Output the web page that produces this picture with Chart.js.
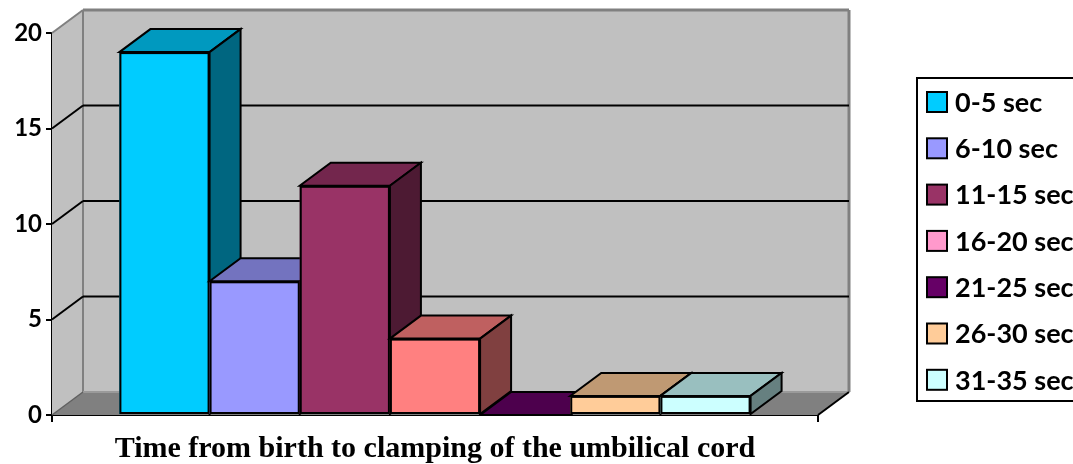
<!DOCTYPE html>
<html>
<head>
<meta charset="utf-8">
<title>Time from birth to clamping of the umbilical cord</title>
<script src="https://cdn.jsdelivr.net/npm/chart.js@4.4.1/dist/chart.umd.min.js"></script>
<style>
  html, body { margin: 0; padding: 0; background: #ffffff; overflow: hidden; }
  #wrap { width: 1073px; height: 464px; position: relative; }
  canvas { display: block; }
</style>
</head>
<body>
<div id="wrap"><canvas id="chart" width="1073" height="464"></canvas></div>
<script>
// Axis title and series
const categories = ['Time from birth to clamping of the umbilical cord'];
const seriesLabels = ['0-5 sec', '6-10 sec', '11-15 sec', '16-20 sec', '21-25 sec', '26-30 sec', '31-35 sec'];
const seriesValues = [19, 7, 12, 4, 0, 1, 1];
const barColors = ['#00CCFF', '#9999FF', '#993366', '#FF8080', '#660066', '#FFCC99', '#CCFFFF'];
const legendColors = ['#00CCFF', '#9999FF', '#993366', '#FF99CC', '#660066', '#FFCC99', '#CCFFFF'];
const yTicks = [0, 5, 10, 15, 20];

// depth of the 3-D box (offset from front plane to back wall)
const DEPTH_X = 31;
const DEPTH_Y = -23;

function shade(hex, f) {
  const n = parseInt(hex.slice(1), 16);
  const r = Math.round(((n >> 16) & 255) * f);
  const g = Math.round(((n >> 8) & 255) * f);
  const b = Math.round((n & 255) * f);
  return 'rgb(' + r + ',' + g + ',' + b + ')';
}

function poly(ctx, pts, fill, stroke, lw) {
  ctx.beginPath();
  ctx.moveTo(pts[0][0], pts[0][1]);
  for (let i = 1; i < pts.length; i++) ctx.lineTo(pts[i][0], pts[i][1]);
  ctx.closePath();
  if (fill) { ctx.fillStyle = fill; ctx.fill(); }
  if (stroke) { ctx.strokeStyle = stroke; ctx.lineWidth = lw || 2; ctx.lineJoin = 'miter'; ctx.stroke(); }
}

function line(ctx, x1, y1, x2, y2, color, lw) {
  ctx.beginPath();
  ctx.moveTo(x1, y1);
  ctx.lineTo(x2, y2);
  ctx.strokeStyle = color;
  ctx.lineWidth = lw;
  ctx.stroke();
}

const box3dPlugin = {
  id: 'box3d',
  // walls, floor and gridlines behind the bars
  beforeDatasetsDraw(chart) {
    const ctx = chart.ctx;
    const xs = chart.scales.x, ys = chart.scales.y;
    const L = xs.left, R = xs.right;
    const top = ys.getPixelForValue(yTicks[yTicks.length - 1]);
    const base = ys.getPixelForValue(0);
    ctx.save();
    poly(ctx, [[L, top], [L + DEPTH_X, top + DEPTH_Y], [L + DEPTH_X, base + DEPTH_Y], [L, base]], '#C0C0C0');
    poly(ctx, [[L + DEPTH_X, top + DEPTH_Y], [R + DEPTH_X, top + DEPTH_Y], [R + DEPTH_X, base + DEPTH_Y], [L + DEPTH_X, base + DEPTH_Y]], '#C0C0C0');
    poly(ctx, [[L, base], [R, base], [R + DEPTH_X, base + DEPTH_Y], [L + DEPTH_X, base + DEPTH_Y]], '#808080');
    line(ctx, L, top, L + DEPTH_X, top + DEPTH_Y, '#808080', 2);
    line(ctx, L + DEPTH_X, top + DEPTH_Y, R + DEPTH_X, top + DEPTH_Y, '#808080', 3);
    line(ctx, R + DEPTH_X, top + DEPTH_Y, R + DEPTH_X, base + DEPTH_Y, '#808080', 3);
    line(ctx, L + DEPTH_X, top + DEPTH_Y, L + DEPTH_X, base + DEPTH_Y, '#808080', 2);
    line(ctx, L + DEPTH_X, base + DEPTH_Y, R + DEPTH_X, base + DEPTH_Y, '#9a9a9a', 2);
    line(ctx, L, base, L + DEPTH_X, base + DEPTH_Y, '#606060', 1.5);
    line(ctx, R, base, R + DEPTH_X, base + DEPTH_Y, '#000000', 2);
    yTicks.forEach(v => {
      if (v === 0 || v === yTicks[yTicks.length - 1]) return;
      const y = ys.getPixelForValue(v);
      line(ctx, L, y, L + DEPTH_X, y + DEPTH_Y, '#000000', 2);
      line(ctx, L + DEPTH_X, y + DEPTH_Y, R + DEPTH_X, y + DEPTH_Y, '#000000', 2);
    });
    ctx.restore();
  },
  // each bar as a solid box, left to right, so that a bar covers
  // the side face of its left-hand neighbour
  afterDatasetsDraw(chart) {
    const ctx = chart.ctx;
    ctx.save();
    chart.data.datasets.forEach((ds, i) => {
      const meta = chart.getDatasetMeta(i);
      const el = meta.data[0];
      if (!el) return;
      const col = barColors[i];
      const L = el.x - el.width / 2, R = el.x + el.width / 2;
      const T = Math.min(el.y, el.base), B = Math.max(el.y, el.base);
      // front face
      if (B - T > 0.5) {
        ctx.fillStyle = col;
        ctx.fillRect(L, T, R - L, B - T);
        ctx.strokeStyle = '#000';
        ctx.lineWidth = 2;
        ctx.strokeRect(L + 1, T + 1, R - L - 2, B - T - 2);
      }
      // top face
      poly(ctx, [[L, T], [R, T], [R + DEPTH_X, T + DEPTH_Y], [L + DEPTH_X, T + DEPTH_Y]], shade(col, 0.75), '#000', 2);
      // right side face
      poly(ctx, [[R, T], [R + DEPTH_X, T + DEPTH_Y], [R + DEPTH_X, B + DEPTH_Y], [R, B]], shade(col, 0.5), '#000', 2);
    });
    ctx.restore();
  },
  afterDraw(chart) {
    const ctx = chart.ctx;
    ctx.save();
    ctx.strokeStyle = '#000';
    ctx.lineWidth = 2;
    ctx.strokeRect(917, 78, 220, 323);
    ctx.font = 'bold 27px Lato';
    ctx.textBaseline = 'middle';
    ctx.textAlign = 'left';
    seriesLabels.forEach((lab, i) => {
      const cy = 102 + i * 46.3;
      ctx.fillStyle = legendColors[i];
      ctx.fillRect(927, cy - 10, 20, 20);
      ctx.strokeStyle = '#000';
      ctx.lineWidth = 2;
      ctx.strokeRect(927, cy - 10, 20, 20);
      ctx.fillStyle = '#000';
      ctx.fillText(lab, 955, cy + 1);
    });
    ctx.restore();
  }
};

const datasets = seriesLabels.map((lab, i) => ({
  label: lab,
  data: [seriesValues[i]],
  backgroundColor: barColors[i],
  borderColor: '#000000',
  borderWidth: 2,
  borderSkipped: false,
  categoryPercentage: 0.824,
  barPercentage: 1.0
}));

new Chart(document.getElementById('chart'), {
  type: 'bar',
  data: { labels: [''], datasets: datasets },
  options: {
    responsive: false,
    animation: false,
    devicePixelRatio: 1,
    layout: { padding: { top: 33, right: 255, left: 0, bottom: 0 } },
    plugins: { legend: { display: false }, tooltip: { enabled: false } },
    scales: {
      x: {
        type: 'category',
        offset: true,
        grid: { display: true, drawOnChartArea: false, drawTicks: true, tickLength: 7, color: '#000', lineWidth: 2 },
        border: { display: true, color: '#000', width: 2 },
        ticks: { display: false },
        title: {
          display: true,
          text: categories[0],
          color: '#000',
          font: { family: 'Liberation Serif', size: 30, weight: 'bold' },
          padding: { top: 0, bottom: -3 }
        },
        afterFit(s) { s.height = 49; }
      },
      y: {
        min: 0,
        max: 20,
        ticks: {
          stepSize: 5,
          color: '#000',
          padding: 4,
          font: { family: 'Lato', size: 24, weight: 'bold' }
        },
        grid: { drawOnChartArea: false, drawTicks: true, tickLength: 6, color: '#000', lineWidth: 2 },
        border: { display: true, color: '#000', width: 2 },
        afterFit(s) { s.width = 52; }
      }
    }
  },
  plugins: [box3dPlugin]
});
</script>
</body>
</html>
